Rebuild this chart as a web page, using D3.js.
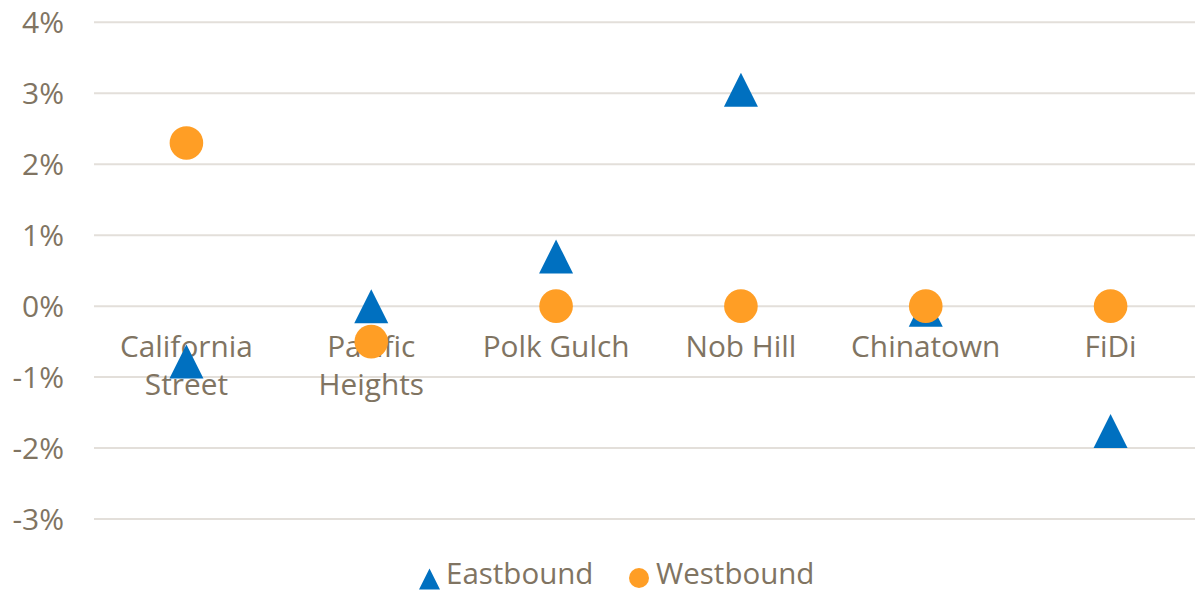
<!DOCTYPE html>
<html>
<head>
<meta charset="utf-8">
<script src="https://cdn.jsdelivr.net/npm/d3@7"></script>
<style>
  body { margin: 0; background: white; }
  text { font-family: "Open Sans", sans-serif; fill: #807462; }
</style>
</head>
<body>
<div id="vizContainer"></div>
<script>
let w = 1195;
let h = 593;

// data (percent change)
let categories = ["California\nStreet", "Pacific\nHeights", "Polk Gulch", "Nob Hill", "Chinatown", "FiDi"];
let eastbound = [-0.78, 0.0, 0.70, 3.05, -0.05, -1.76];
let westbound = [2.30, -0.50, 0.0, 0.0, 0.0, 0.0];
let yTicks = [-3, -2, -1, 0, 1, 2, 3, 4];
let seriesNames = ["Eastbound", "Westbound"];

let blue = "#0070c0";
let orange = "#ff9e25";

let viz = d3.select('#vizContainer').append('svg')
	.attr('width', w)
	.attr('height', h)
	.style('background-color', 'white');

let xScale = d3.scaleBand().domain(categories).range([94, 1203]);
let yScale = d3.scaleLinear().domain([-3, 4]).range([519, 22.3]);

// gridlines
viz.append('g').selectAll('line').data(yTicks).enter().append('line')
	.attr('x1', 94)
	.attr('x2', w)
	.attr('y1', d => yScale(d))
	.attr('y2', d => yScale(d))
	.attr('stroke', '#e3dfda')
	.attr('stroke-width', 2);

// y labels
viz.append('g').selectAll('text').data(yTicks).enter().append('text')
	.attr('x', 64)
	.attr('y', d => yScale(d))
	.attr('dy', '0.36em')
	.attr('text-anchor', 'end')
	.style('font-size', '30px')
	.text(d => d + '%');

// category labels sit under the 0% line
let catLabels = viz.append('g').selectAll('text').data(categories).enter().append('text')
	.attr('text-anchor', 'middle')
	.attr('x', d => xScale(d) + xScale.bandwidth() / 2)
	.attr('y', yScale(0) + 51)
	.style('font-size', '29.8px');
catLabels.each(function(d){
	let lines = d.split('\n');
	d3.select(this).selectAll('tspan').data(lines).enter().append('tspan')
		.attr('x', xScale(d) + xScale.bandwidth() / 2)
		.attr('dy', (l, i) => i == 0 ? 0 : 38)
		.text(l => l);
});

// triangle centred on its box, like the spreadsheet marker
function triangle(cx, cy, s){
	let hw = s / 2;
	return "M" + cx + "," + (cy - hw) + "L" + (cx + hw) + "," + (cy + hw) + "L" + (cx - hw) + "," + (cy + hw) + "Z";
}

viz.append('g').selectAll('path').data(eastbound).enter().append('path')
	.attr('d', (d, i) => triangle(xScale(categories[i]) + xScale.bandwidth() / 2, yScale(d), 34))
	.attr('fill', blue);

viz.append('g').selectAll('circle').data(westbound).enter().append('circle')
	.attr('cx', (d, i) => xScale(categories[i]) + xScale.bandwidth() / 2)
	.attr('cy', d => yScale(d))
	.attr('r', 16.8)
	.attr('fill', orange);

// legend
let legend = viz.append('g').attr('transform', 'translate(0,584)');
legend.append('path')
	.attr('d', triangle(429.5, -5, 21))
	.attr('fill', blue);
legend.append('text')
	.attr('x', 446)
	.attr('y', 0)
	.style('font-size', '29.5px')
	.text(seriesNames[0]);
legend.append('circle')
	.attr('cx', 639)
	.attr('cy', -6)
	.attr('r', 10)
	.attr('fill', orange);
legend.append('text')
	.attr('x', 656)
	.attr('y', 0)
	.style('font-size', '29.5px')
	.text(seriesNames[1]);
</script>
</body>
</html>
